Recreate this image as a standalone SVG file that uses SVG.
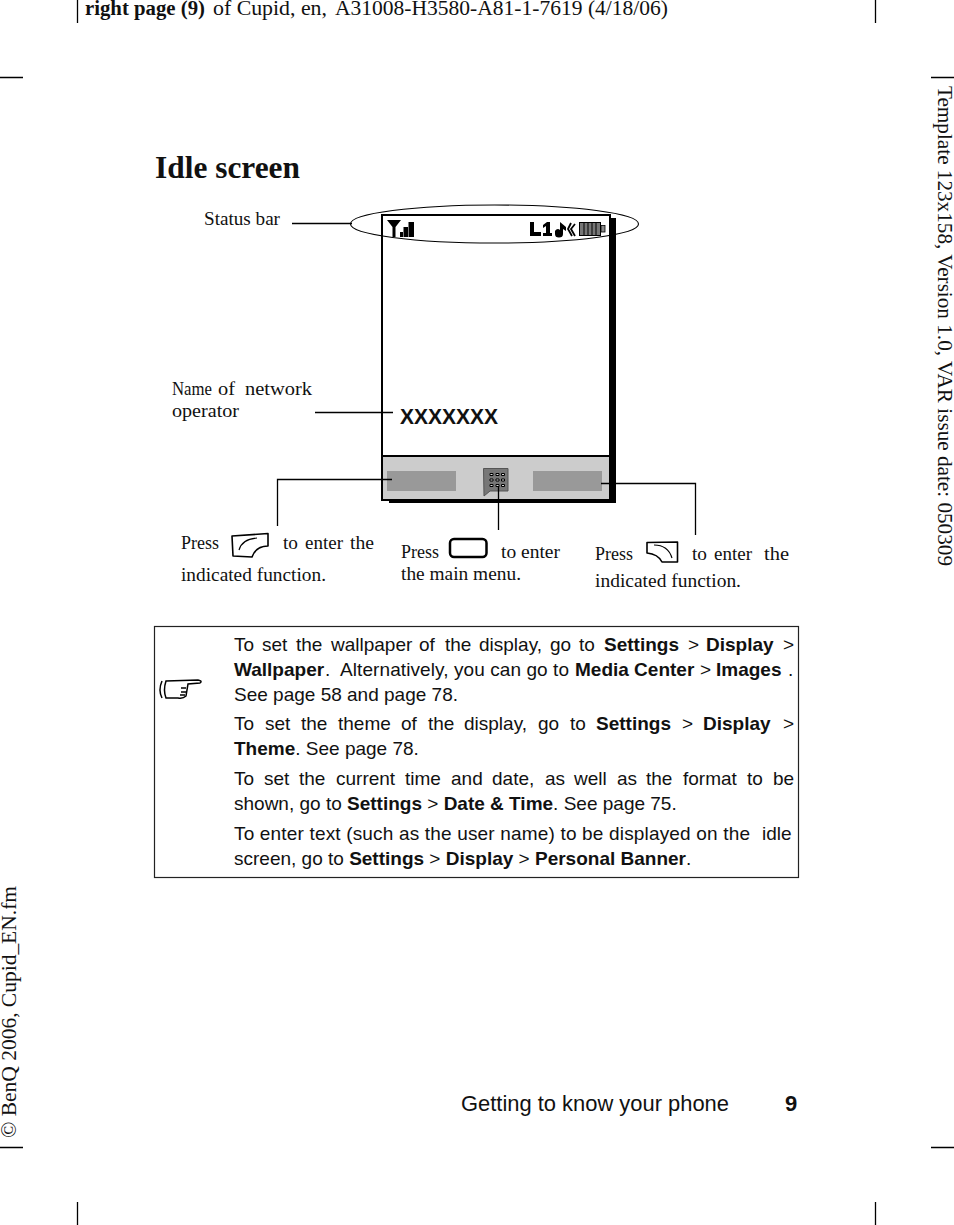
<svg xmlns="http://www.w3.org/2000/svg" width="954" height="1225" viewBox="0 0 954 1225">
<style>
.s{font-family:"Liberation Serif",serif;fill:#111}
.a{font-family:"Liberation Sans",Arial,sans-serif;fill:#111}
.b{font-size:18.6px}
.l{font-size:19px}
.bd{font-weight:bold}
.k{fill:none;stroke:#000;stroke-width:1.3}
.w{fill:none;stroke:#000;stroke-width:1.6;stroke-linejoin:round}
</style>
<rect width="954" height="1225" fill="#fff"/>
<g id="crop-marks" class="k">
<path d="M77.500 0V23M875.500 0V23M77.500 1202V1225M875.500 1202V1225M0 77.500H23M931 77.500H954M0 1147.500H23M931 1147.500H954"/>
</g>
<g id="page-text">
<text class="s" x="85" y="15" font-size="20.500px" font-weight="bold" textLength="120" lengthAdjust="spacingAndGlyphs">right page (9)</text>
<text class="s" x="213" y="15" font-size="20.500px" textLength="114" lengthAdjust="spacingAndGlyphs">of Cupid, en,</text>
<text class="s" x="335" y="15" font-size="20.500px" textLength="333" lengthAdjust="spacingAndGlyphs">A31008-H3580-A81-1-7619 (4/18/06)</text>
<text class="s" transform="translate(938,86) rotate(90)" font-size="20px" textLength="480" lengthAdjust="spacingAndGlyphs">Template 123x158, Version 1.0, VAR issue date: 050309</text>
<text class="s" transform="translate(16,1138) rotate(-90)" font-size="20px" textLength="252" lengthAdjust="spacingAndGlyphs">© BenQ 2006, Cupid_EN.fm</text>
<text class="s" x="155" y="178" font-size="32px" font-weight="bold" textLength="145" lengthAdjust="spacingAndGlyphs">Idle screen</text>
<text class="a" x="461" y="1111" font-size="22px" textLength="268" lengthAdjust="spacingAndGlyphs">Getting to know your phone</text>
<text class="a bd" x="785" y="1111" font-size="22px">9</text>
</g>
<g id="phone">
<rect x="389" y="218" width="227" height="285" fill="#000"/>
<rect x="382" y="215" width="228" height="285" fill="#fff" stroke="#000" stroke-width="2"/>
<rect x="383" y="457" width="226" height="42" fill="#ccc"/>
<path d="M382 456H610" stroke="#000" stroke-width="2"/>
<rect x="387" y="471" width="69" height="20" fill="#999"/>
<rect x="533" y="471" width="69" height="20" fill="#999"/>
<path d="M483.500 468.500H508V491H490L484 496Z" fill="#777" stroke="#555"/>
<path d="M490 473.500h3v2h-3zM496 473.500h3v2h-3zM501.500 473.500h3v2h-3zM490 479h3v2h-3zM496 479h3v2h-3zM501.500 479h3v2h-3zM490 484.500h3v2h-3zM496 484.500h3v2h-3zM501.500 484.500h3v2h-3z" fill="#ddd" stroke="#000"/>
<text class="a bd" x="400" y="424" font-size="22px" fill="#333" textLength="98" lengthAdjust="spacingAndGlyphs">XXXXXXX</text>
<path d="M387 220H401L395.500 227V237H392.500V227Z" fill="#000"/>
<path d="M400 237V232H403V237ZM403.500 237V227H408V237ZM408.500 237V222H414V237Z" fill="#000"/>
<path d="M530 222H534V232H541V236H530ZM543 225L547 222H550V233H552V236H543V233H546V226L543 228Z" fill="#000"/>
<path d="M555 233a3 3 0 0 1 5-3V222L566 227V231L563 229V234a4 3.500 0 0 1-8 0Z" fill="#000"/>
<path d="M571 223L568 229L572 236M575 224L571 229L575 236" stroke="#000" stroke-width="1.800" fill="none"/>
<rect x="579.500" y="222.500" width="21" height="13" fill="#777" stroke="#000"/>
<path d="M584 223V235M588 223V235M592 223V235M596 223V235" stroke="#000" stroke-width="1"/>
<rect x="601" y="225.500" width="4" height="6.500" fill="#888" stroke="#000" stroke-width=".8"/>
</g>
<g id="connectors" class="k">
<path d="M292 223.500H352M315 412.500H393M277.500 526V479.500H392M498.500 530V486M695.500 535V483.500H601"/>
</g>
<g id="status-ellipse"><ellipse cx="494.500" cy="224" rx="144" ry="19" fill="none" stroke="#000" stroke-width="1.100"/></g>
<g id="labels" class="s b">
<text x="204" y="225" textLength="76" lengthAdjust="spacingAndGlyphs">Status bar</text>
<text x="172" y="395" textLength="40" lengthAdjust="spacingAndGlyphs">Name</text><text x="218" y="395" textLength="17" lengthAdjust="spacingAndGlyphs">of</text><text x="245" y="395" textLength="67" lengthAdjust="spacingAndGlyphs">network</text>
<text x="172" y="417" textLength="67" lengthAdjust="spacingAndGlyphs">operator</text>
<text x="181" y="549" textLength="38" lengthAdjust="spacingAndGlyphs">Press</text><text x="283" y="549" textLength="15" lengthAdjust="spacingAndGlyphs">to</text><text x="305" y="549" textLength="38" lengthAdjust="spacingAndGlyphs">enter</text><text x="350" y="549" textLength="24" lengthAdjust="spacingAndGlyphs">the</text>
<text x="181" y="581" textLength="145" lengthAdjust="spacingAndGlyphs">indicated function.</text>
<text x="401" y="558" textLength="38" lengthAdjust="spacingAndGlyphs">Press</text><text x="501" y="558" textLength="59" lengthAdjust="spacingAndGlyphs">to enter</text>
<text x="401" y="580" textLength="120" lengthAdjust="spacingAndGlyphs">the main menu.</text>
<text x="595" y="560" textLength="38" lengthAdjust="spacingAndGlyphs">Press</text><text x="692" y="560" textLength="15" lengthAdjust="spacingAndGlyphs">to</text><text x="714" y="560" textLength="38" lengthAdjust="spacingAndGlyphs">enter</text><text x="764" y="560" textLength="25" lengthAdjust="spacingAndGlyphs">the</text>
<text x="595" y="587" textLength="146" lengthAdjust="spacingAndGlyphs">indicated function.</text>
</g>
<g id="keys" class="w">
<path d="M232 536L268 533.500V546Q256 546 252 557L233 556Z"/><path d="M239 550Q242 539 257 538" stroke-width="1.200"/>
<rect x="450" y="539" width="36.500" height="18" rx="4" stroke-width="2.500"/>
<path d="M647 542.500L677.500 542V562H662Q658 554 647 553Z"/><path d="M654 545Q668 545 672 558" stroke-width="1.200"/>
</g>
<g id="note">
<rect x="154.500" y="626.500" width="644" height="251" fill="none" stroke="#222" stroke-width="1.200"/>
<path d="M162 681Q158 690 162 698M166 681L198 680Q203 681 200 683L188 684L186 696Q183 699 178 698H166Q163 690 166 681ZM181 688H186M181 692H186M180 695H185" fill="none" stroke="#000" stroke-width="1.500"/>
<g class="a l">
<text y="651"><tspan x="234">To</tspan><tspan x="262">set</tspan><tspan x="296">the</tspan><tspan x="331">wallpaper</tspan><tspan x="419">of</tspan><tspan x="445">the</tspan><tspan x="479">display,</tspan><tspan x="550">go</tspan><tspan x="579">to</tspan><tspan x="604" class="bd">Settings</tspan><tspan x="688">&gt;</tspan><tspan x="706" class="bd">Display</tspan><tspan x="783">&gt;</tspan></text>
<text y="676"><tspan x="234" class="bd">Wallpaper</tspan><tspan x="325">.</tspan><tspan x="340" textLength="229">Alternatively, you can go to</tspan><tspan x="575" class="bd">Media Center</tspan><tspan x="700">&gt;</tspan><tspan x="716" class="bd">Images</tspan><tspan x="788">.</tspan></text>
<text x="234" y="701">See page 58 and page 78.</text>
<text y="730"><tspan x="234">To</tspan><tspan x="265">set</tspan><tspan x="301">the</tspan><tspan x="338">theme</tspan><tspan x="401">of</tspan><tspan x="428">the</tspan><tspan x="464">display,</tspan><tspan x="538">go</tspan><tspan x="570">to</tspan><tspan x="596" class="bd">Settings</tspan><tspan x="682">&gt;</tspan><tspan x="703" class="bd">Display</tspan><tspan x="783">&gt;</tspan></text>
<text x="234" y="755"><tspan class="bd">Theme</tspan>. See page 78.</text>
<text y="785"><tspan x="234">To</tspan><tspan x="264">set</tspan><tspan x="299">the</tspan><tspan x="336">current</tspan><tspan x="405">time</tspan><tspan x="451">and</tspan><tspan x="492">date,</tspan><tspan x="545">as</tspan><tspan x="574">well</tspan><tspan x="617">as</tspan><tspan x="646">the</tspan><tspan x="683">format</tspan><tspan x="747">to</tspan><tspan x="773">be</tspan></text>
<text x="234" y="810">shown, go to <tspan class="bd">Settings</tspan> &gt; <tspan class="bd">Date &amp; Time</tspan>. See page 75.</text>
<text y="840"><tspan x="234" textLength="516">To enter text (such as the user name) to be displayed on the</tspan><tspan x="762">idle</tspan></text>
<text x="234" y="865">screen, go to <tspan class="bd">Settings</tspan> &gt; <tspan class="bd">Display</tspan> &gt; <tspan class="bd">Personal Banner</tspan>.</text>
</g>
</g>
</svg>
